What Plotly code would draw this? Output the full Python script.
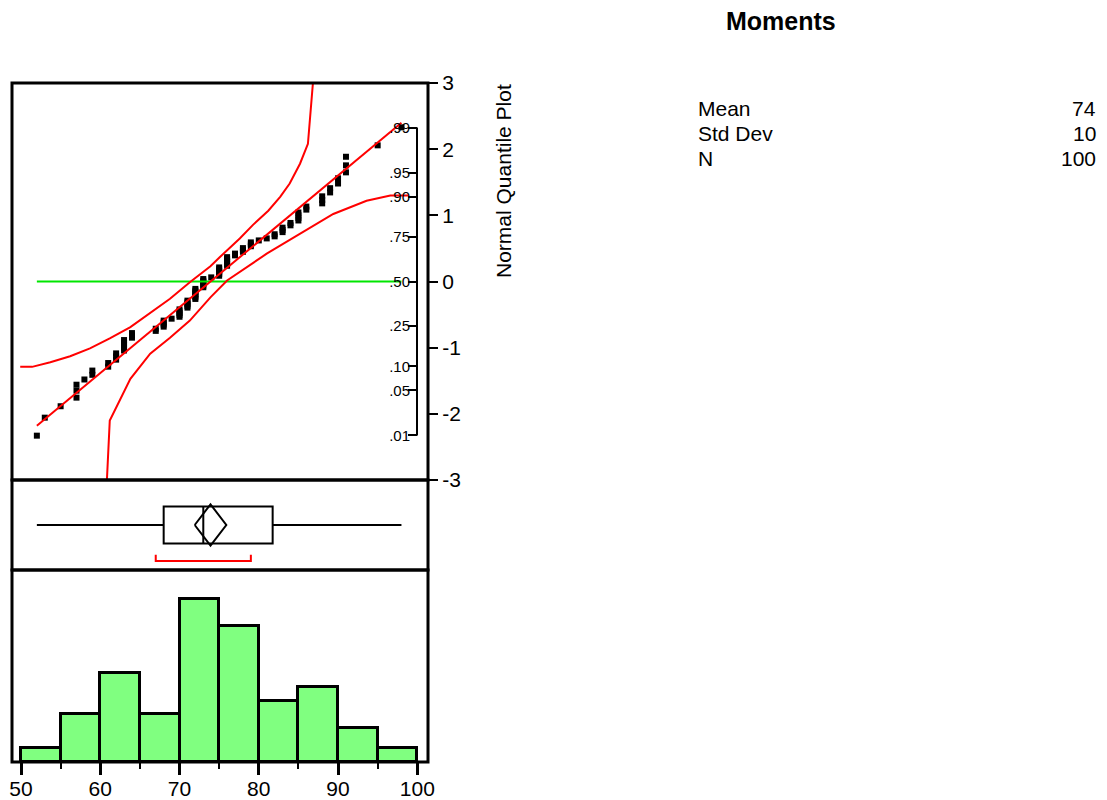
import numpy as np
import plotly.graph_objects as go
from statistics import NormalDist

# ---------------- data ----------------
# distinct sorted values and how many observations share each value
values = [52, 53, 55, 57, 58, 59, 61, 62, 63, 64, 67, 68, 69, 70, 71, 72, 73, 74,
          75, 76, 77, 78, 79, 80, 81, 82, 83, 84, 85, 86, 88, 89, 90, 91, 95, 98]
ties = [1, 1, 1, 3, 1, 2, 2, 3, 5, 3, 2, 4, 1, 5, 5, 7, 6, 1,
        6, 6, 2, 3, 3, 1, 1, 2, 3, 2, 4, 2, 3, 2, 2, 3, 1, 1]

# histogram bins (left edges) and counts
bin_left = [50, 55, 60, 65, 70, 75, 80, 85, 90, 95]
bin_width = 5
hist_counts = [2, 7, 13, 7, 24, 20, 9, 11, 5, 2]

# confidence band curves of the normal quantile plot (value, normal quantile)
band_upper_x = [49.9, 51.4, 53.7, 56.2, 58.7, 61.2, 63.8, 66.3, 68.8, 71.3, 73.9,
                75.1, 77.6, 79.3, 81.2, 82.7, 83.9, 85.2, 86.2, 86.9]
band_upper_z = [-1.29, -1.29, -1.22, -1.13, -1.01, -0.86, -0.69, -0.48, -0.26, -0.01, 0.23,
                0.37, 0.65, 0.86, 1.07, 1.28, 1.48, 1.78, 2.08, 3.10]
band_lower_x = [60.8, 61.2, 63.8, 66.3, 68.8, 71.3, 73.9, 76.0, 81.0, 85.2, 89.4, 93.6, 96.6, 98.9]
band_lower_z = [-3.10, -2.10, -1.47, -1.09, -0.85, -0.59, -0.24, 0.015, 0.42, 0.72, 1.02, 1.22, 1.30, 1.30]

prob_ticks = [0.01, 0.05, 0.10, 0.25, 0.50, 0.75, 0.90, 0.95, 0.99]
prob_labels = [".01", ".05", ".10", ".25", ".50", ".75", ".90", ".95", ".99"]
z_ticks = [-3, -2, -1, 0, 1, 2, 3]
z_labels = ["-3", "-2", "-1", "0", "1", "2", "3"]
hist_major = [50, 60, 70, 80, 90, 100]
hist_minor = [55, 65, 75, 85, 95]

moment_names = ["Mean", "Std Dev", "N"]
T975_DF99 = 1.9842  # Student t quantile used for the means diamond

# ---------------- derived statistics ----------------
data = np.repeat(np.array(values, dtype=float), ties)
n = len(data)
mean = data.mean()
sd = data.std(ddof=1)
nd = NormalDist()
zq = np.array([nd.inv_cdf(r / (n + 1)) for r in range(1, n + 1)])
dmin, dmax = data.min(), data.max()
q1, med, q3 = np.quantile(data, [0.25, 0.5, 0.75], method="weibull")
ci = T975_DF99 * sd / np.sqrt(n)
half = n // 2
widths = [data[i + half - 1] - data[i] for i in range(n - half + 1)]
i0 = int(np.argmin(widths))
sh_lo, sh_hi = data[i0], data[i0 + half - 1]

# ---------------- layout geometry ----------------
# the page body has an 8px margin: the figure is sized to fit inside the window
PAGE_W, PAGE_H, BODY_M = 1107, 800, 8
W, H = PAGE_W - 2 * BODY_M, PAGE_H - BODY_M
FONT = "Liberation Sans, Arial, Helvetica, sans-serif"


def fx(p):
    """page pixel x -> paper fraction"""
    return (p - BODY_M) / W


def fy(p):
    """page pixel y -> paper fraction"""
    return 1 - (p - BODY_M) / H


LEFT, RIGHT = 12, 428
Q_TOP, Q_BOT, B_BOT, H_BOT = 83, 480, 570, 762
X_RANGE = [48.864, 101.35]
X_DOMAIN = [fx(LEFT), fx(RIGHT)]
PROB_AXIS_X = fx(417)
BOX_Y, BOX_W, DIAMOND_H = 0.5, 0.41, 0.23
BRACKET_Y, BRACKET_TIP = 0.10, 0.17

fig = go.Figure()

# ---- normal quantile plot ----
fig.add_trace(go.Scatter(x=data, y=zq, mode="markers",
                         marker=dict(symbol="square", size=6, color="black"),
                         xaxis="x", yaxis="y", hoverinfo="skip"))
fig.add_trace(go.Scatter(x=[dmin, dmax], y=[0, 0], mode="lines",
                         line=dict(color="#00e600", width=2), xaxis="x", yaxis="y"))
fig.add_trace(go.Scatter(x=[dmin, dmax], y=[(dmin - mean) / sd, (dmax - mean) / sd], mode="lines",
                         line=dict(color="#ff0000", width=2), xaxis="x", yaxis="y"))
fig.add_trace(go.Scatter(x=band_upper_x, y=band_upper_z, mode="lines",
                         line=dict(color="#ff0000", width=2), xaxis="x", yaxis="y"))
fig.add_trace(go.Scatter(x=band_lower_x, y=band_lower_z, mode="lines",
                         line=dict(color="#ff0000", width=2), xaxis="x", yaxis="y"))
prob_z = [nd.inv_cdf(p) for p in prob_ticks]
fig.add_trace(go.Scatter(x=[None], y=[None], xaxis="x", yaxis="y4", showlegend=False))
fig.add_shape(type="line", xref="paper", yref="y", x0=PROB_AXIS_X, x1=PROB_AXIS_X,
              y0=prob_z[0], y1=prob_z[-1], line=dict(color="black", width=2))

# ---- outlier box plot ----
fig.add_trace(go.Box(y=[BOX_Y], q1=[q1], median=[med], q3=[q3],
                     lowerfence=[dmin], upperfence=[dmax], orientation="h",
                     width=BOX_W, whiskerwidth=0, boxpoints=False,
                     fillcolor="rgba(0,0,0,0)", line=dict(color="black", width=2),
                     xaxis="x2", yaxis="y2", hoverinfo="skip"))
fig.add_trace(go.Scatter(x=[mean - ci, mean, mean + ci, mean, mean - ci],
                         y=[BOX_Y, BOX_Y + DIAMOND_H, BOX_Y, BOX_Y - DIAMOND_H, BOX_Y],
                         mode="lines", line=dict(color="black", width=2),
                         xaxis="x2", yaxis="y2"))
fig.add_trace(go.Scatter(x=[sh_lo, sh_lo, sh_hi, sh_hi],
                         y=[BRACKET_TIP, BRACKET_Y, BRACKET_Y, BRACKET_TIP],
                         mode="lines", line=dict(color="#ff0000", width=2),
                         xaxis="x2", yaxis="y2"))

# ---- histogram ----
fig.add_trace(go.Bar(x=[b + bin_width / 2 for b in bin_left], y=hist_counts, width=bin_width,
                     marker=dict(color="#80ff80", line=dict(color="black", width=3)),
                     xaxis="x3", yaxis="y3"))

plain = dict(showline=False, showgrid=False, zeroline=False, automargin=False)

fig.update_layout(
    width=W, height=H, margin=dict(l=0, r=0, t=0, b=0, autoexpand=False),
    paper_bgcolor="white", plot_bgcolor="white", showlegend=False,
    font=dict(family=FONT, color="black"),
    bargap=0,
    xaxis=dict(domain=X_DOMAIN, range=X_RANGE, anchor="y", ticks="", showticklabels=False, **plain),
    yaxis=dict(domain=[fy(Q_BOT), fy(Q_TOP)], range=[-3, 3], anchor="x", side="right",
               ticks="outside", ticklen=9, tickwidth=2, tickcolor="black",
               tickvals=z_ticks, ticktext=z_labels, tickfont=dict(size=21, family=FONT), **plain),
    yaxis4=dict(overlaying="y", anchor="free", position=PROB_AXIS_X, side="left",
                range=[-3, 3], ticks="outside", ticklen=9, tickwidth=1.5, tickcolor="black",
                ticklabelstandoff=-5,
                tickvals=prob_z, ticktext=prob_labels, tickfont=dict(size=15, family=FONT), **plain),
    xaxis2=dict(domain=X_DOMAIN, range=X_RANGE, anchor="y2", ticks="", showticklabels=False, **plain),
    yaxis2=dict(domain=[fy(B_BOT), fy(Q_BOT)], range=[0, 1], anchor="x2", ticks="",
                showticklabels=False, **plain),
    xaxis3=dict(domain=X_DOMAIN, range=X_RANGE, anchor="y3", ticks="outside", ticklen=12,
                tickwidth=3, tickcolor="black", tickvals=hist_major, ticklabelstandoff=-4,
                ticktext=[str(v) for v in hist_major], tickfont=dict(size=21, family=FONT),
                minor=dict(ticks="outside", ticklen=6, tickwidth=2, tickcolor="black",
                           tickvals=hist_minor, showgrid=False),
                **plain),
    yaxis3=dict(domain=[fy(H_BOT), fy(B_BOT)], range=[0, 28.2], anchor="x3", ticks="",
                showticklabels=False, **plain),
)

# ---- panel frames ----
for top, bot in [(Q_TOP, Q_BOT), (Q_BOT, B_BOT), (B_BOT, H_BOT)]:
    fig.add_shape(type="rect", xref="paper", yref="paper", x0=fx(LEFT), x1=fx(RIGHT),
                  y0=fy(bot), y1=fy(top), line=dict(color="black", width=3), layer="above")

# ---- texts ----
fig.add_annotation(text="Normal Quantile Plot", xref="paper", yref="paper", x=fx(503), y=fy(181),
                   textangle=-90, showarrow=False, font=dict(size=21, family=FONT),
                   xanchor="center", yanchor="middle")
fig.add_annotation(text="<b>Moments</b>", xref="paper", yref="paper", x=fx(781), y=fy(21),
                   showarrow=False, font=dict(size=25, family=FONT), xanchor="center", yanchor="middle")
moment_values = [f"{mean:.0f}", f"{sd:.0f}", f"{n}"]
for i, (name, val) in enumerate(zip(moment_names, moment_values)):
    yy = fy(108 + 25 * i)
    fig.add_annotation(text=name, xref="paper", yref="paper", x=fx(696), y=yy, showarrow=False,
                       font=dict(size=21, family=FONT), xanchor="left", yanchor="middle")
    fig.add_annotation(text=val, xref="paper", yref="paper", x=fx(1098), y=yy, showarrow=False,
                       font=dict(size=21, family=FONT), xanchor="right", yanchor="middle")

fig.write_html("out.html")
